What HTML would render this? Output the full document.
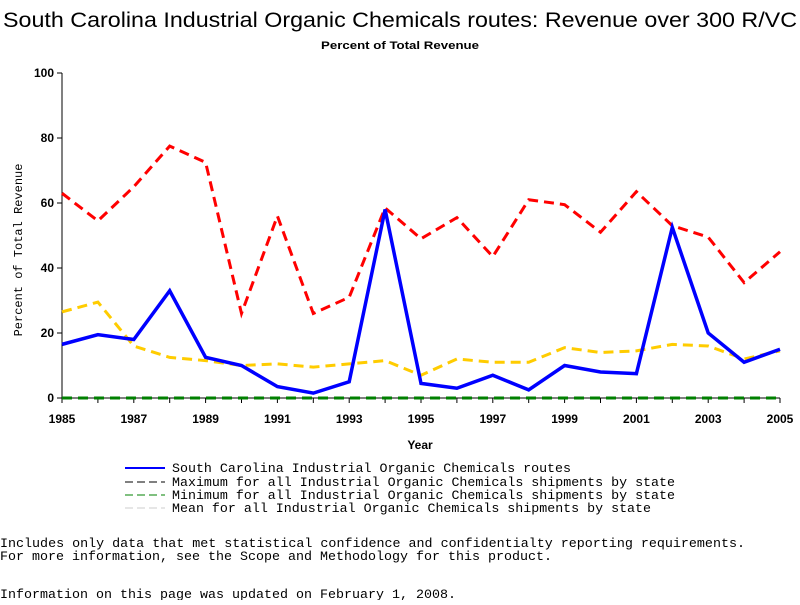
<!DOCTYPE html>
<html><head><meta charset="utf-8"><style>
body{margin:0;background:#fff;width:800px;height:600px;overflow:hidden}
svg text{fill:#000}
</style></head><body>
<svg width="800" height="600" xmlns="http://www.w3.org/2000/svg">
<text x="3" y="27" textLength="794" lengthAdjust="spacingAndGlyphs" font-family="Liberation Sans, sans-serif" font-size="21">South Carolina Industrial Organic Chemicals routes: Revenue over 300 R/VC</text>
<text x="321" y="49" textLength="158" lengthAdjust="spacingAndGlyphs" font-family="Liberation Sans, sans-serif" font-size="11" font-weight="bold">Percent of Total Revenue</text>
<g id="axes"></g>
<g id="series"></g>
<text x="420" y="449" text-anchor="middle" font-family="Liberation Sans, sans-serif" font-size="12" font-weight="bold">Year</text>
<text transform="translate(22,250) rotate(-90)" text-anchor="middle" font-family="Liberation Mono, monospace" font-size="12">Percent of Total Revenue</text>
<g font-family="Liberation Mono, monospace" font-size="13">
<g><line x1="125" y1="468" x2="165" y2="468" stroke="#0000ff" stroke-width="2"/><text x="172" y="472" textLength="399" lengthAdjust="spacingAndGlyphs">South Carolina Industrial Organic Chemicals routes</text></g>
<g><line x1="125" y1="482" x2="165" y2="482" stroke="#000" stroke-dasharray="8,4"/><text x="172" y="486" textLength="503" lengthAdjust="spacingAndGlyphs">Maximum for all Industrial Organic Chemicals shipments by state</text></g>
<g><line x1="125" y1="495" x2="165" y2="495" stroke="#008000" stroke-dasharray="8,4"/><text x="172" y="499" textLength="503" lengthAdjust="spacingAndGlyphs">Minimum for all Industrial Organic Chemicals shipments by state</text></g>
<g><line x1="125" y1="508" x2="165" y2="508" stroke="#ccc" stroke-dasharray="8,4"/><text x="172" y="512" textLength="479" lengthAdjust="spacingAndGlyphs">Mean for all Industrial Organic Chemicals shipments by state</text></g>
</g>
<g font-family="Liberation Mono, monospace" font-size="13">
<text x="0" y="547" textLength="745" lengthAdjust="spacingAndGlyphs">Includes only data that met statistical confidence and confidentialty reporting requirements.</text>
<text x="0" y="560" textLength="552" lengthAdjust="spacingAndGlyphs">For more information, see the Scope and Methodology for this product.</text>
<text x="0" y="598" textLength="456" lengthAdjust="spacingAndGlyphs">Information on this page was updated on February 1, 2008.</text>
</g>
</svg>
<script>
const years=[1985,1986,1987,1988,1989,1990,1991,1992,1993,1994,1995,1996,1997,1998,1999,2000,2001,2002,2003,2004,2005];
const scValues=[16.5,19.5,18,33,12.5,10,3.5,1.5,5,58,4.5,3,7,2.5,10,8,7.5,52.5,20,11,15];
const maxValues=[63,54.5,65,77.5,72.5,26,56,26,31,58.5,49,55.5,43.5,61,59.5,51,63.5,53,49.5,35.5,45];
const minValues=[0,0,0,0,0,0,0,0,0,0,0,0,0,0,0,0,0,0,0,0,0];
const meanValues=[26.5,29.5,16,12.5,11.5,10,10.5,9.5,10.5,11.5,7,12,11,11,15.5,14,14.5,16.5,16,12,14.5];
const yTicks=[0,20,40,60,80,100];
const NS="http://www.w3.org/2000/svg";
const X0=62,X1=780,Y0=398,Y1=73;
const xs=y=>X0+(y-1985)/(2005-1985)*(X1-X0);
const ys=v=>Y0-v/100*(Y0-Y1);
function mk(t,a,p){const e=document.createElementNS(NS,t);for(const k in a)e.setAttribute(k,a[k]);p.appendChild(e);return e;}
const axes=document.getElementById('axes');
const yax=mk('line',{x1:X0,y1:Y1,x2:X0,y2:Y0,stroke:'#000'},axes);


const xax=mk('line',{x1:X0,y1:Y0,x2:X1,y2:Y0,stroke:'#000'},axes);


yTicks.forEach(v=>{
 mk('line',{x1:X0-5,y1:ys(v),x2:X0,y2:ys(v),stroke:'#000'},axes);
 const t=mk('text',{x:X0-8,y:ys(v)+4,'text-anchor':'end','font-family':'Liberation Sans, sans-serif','font-size':'12','font-weight':'bold'},axes);
 t.textContent=v;
 
 
});
years.forEach((y,i)=>{
 mk('line',{x1:xs(y),y1:Y0,x2:xs(y),y2:Y0+5,stroke:'#000'},axes);
 if(i%2===0){
  const t=mk('text',{x:xs(y),y:Y0+25,'text-anchor':'middle','font-family':'Liberation Sans, sans-serif','font-size':'12','font-weight':'bold'},axes);
  t.textContent=y;
  
  
 }
});
const sg=document.getElementById('series');
function line(vals,color,w,dash,name){
 const pts=vals.map((v,i)=>xs(years[i])+','+ys(v)).join(' ');
 const p=mk('polyline',{points:pts,fill:'none',stroke:color,'stroke-width':w},sg);
 if(dash)p.setAttribute('stroke-dasharray',dash);
 
 
}
line(minValues,'#008000',3,'10,6','min-line');
line(meanValues,'#ffcc00',3,'10,6','mean-line');
line(maxValues,'#ff0000',3,'10,6','max-line');
line(scValues,'#0000ff',3.5,null,'south-carolina-line');
</script>
</body></html>
